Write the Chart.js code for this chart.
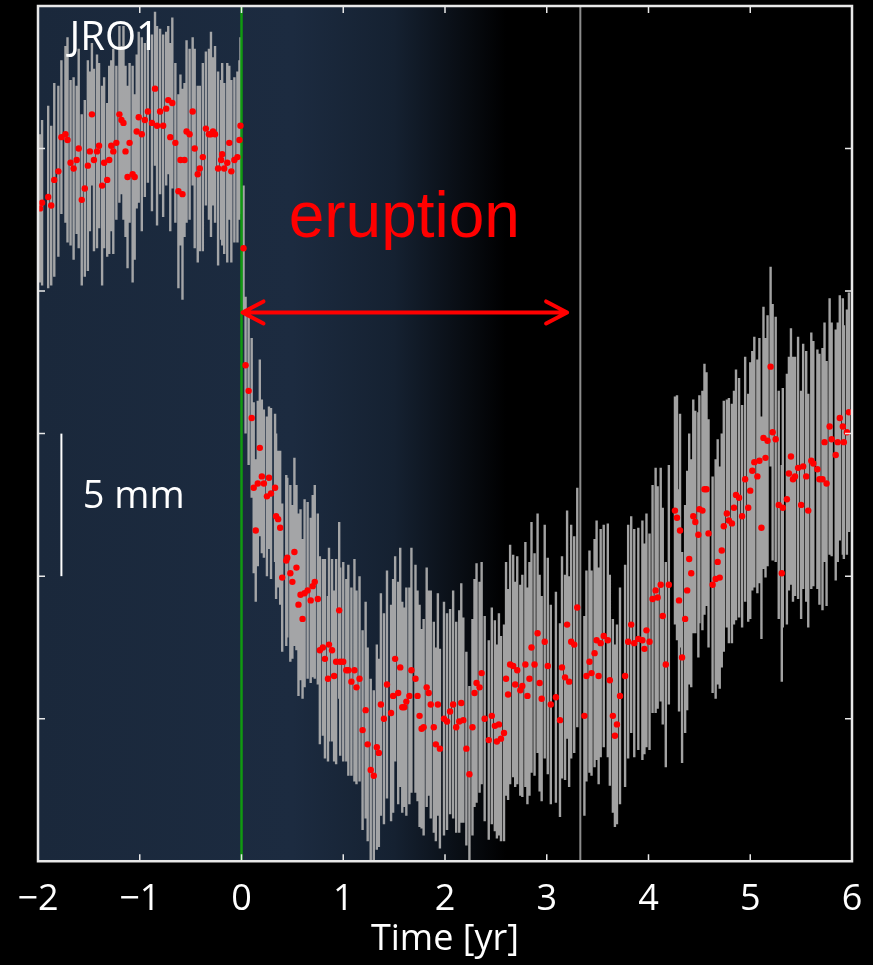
<!DOCTYPE html>
<html>
<head>
<meta charset="utf-8">
<script src="https://cdn.jsdelivr.net/npm/chart.js@4.4.0/dist/chart.umd.min.js"></script>
<style>
  html, body { margin: 0; padding: 0; background: #000; }
  #wrap { width: 873px; height: 965px; }
</style>
</head>
<body>
<div id="wrap"><canvas id="jroChart" width="873" height="965"></canvas></div>
<script>
// JRO1 station displacement around the eruption

// time of each sample, years relative to eruption onset
const timeYr = [
  // before eruption
  -1.98,-1.96,-1.90,-1.87,-1.84,-1.80,-1.77,-1.73,-1.71,-1.68,
  -1.65,-1.62,-1.60,-1.57,-1.54,-1.51,-1.49,-1.47,-1.45,-1.42,
  -1.40,-1.37,-1.35,-1.32,-1.30,-1.28,-1.26,-1.23,-1.20,-1.18,
  -1.16,-1.14,-1.12,-1.10,-1.07,-1.05,-1.03,-1.01,-0.98,-0.95,
  -0.92,-0.88,-0.85,-0.83,-0.80,-0.77,-0.74,-0.72,-0.70,-0.68,
  -0.65,-0.62,-0.60,-0.58,-0.56,-0.54,-0.51,-0.48,-0.46,-0.43,
  -0.41,-0.38,-0.35,-0.32,-0.30,-0.28,-0.26,-0.23,-0.20,-0.19,
  -0.17,-0.14,-0.12,-0.10,-0.07,-0.04,-0.02,-0.01,
  // after eruption
  0.02,0.04,0.07,0.10,0.12,0.14,0.16,0.18,0.20,0.22,
  0.25,0.27,0.29,0.33,0.34,0.36,0.38,0.40,0.44,0.45,
  0.48,0.50,0.52,0.54,0.56,0.58,0.60,0.62,0.65,0.68,
  0.70,0.72,0.75,0.77,0.80,0.82,0.85,0.86,0.89,0.91,
  0.93,0.96,0.97,1.00,1.03,1.05,1.08,1.11,1.13,1.16,
  1.19,1.22,1.24,1.27,1.30,1.33,1.35,1.37,1.40,1.43,
  1.47,1.49,1.51,1.54,1.56,1.58,1.60,1.62,1.65,1.67,
  1.71,1.73,1.75,1.77,1.79,1.82,1.84,1.86,1.89,1.91,
  1.93,1.95,1.99,2.02,2.05,2.08,2.11,2.14,2.16,2.18,
  2.21,2.24,2.27,2.29,2.31,2.34,2.36,2.39,2.43,2.46,
  2.49,2.51,2.53,2.55,2.58,2.60,2.62,2.64,2.67,2.69,
  2.71,2.74,2.76,2.79,2.81,2.83,2.85,2.88,2.91,2.93,
  2.95,2.98,3.01,3.04,3.09,3.13,3.15,3.18,3.20,3.22,
  3.24,3.27,3.30,3.37,3.39,3.42,3.44,3.47,3.49,3.51,
  3.53,3.56,3.60,3.62,3.65,3.67,3.69,3.72,3.77,3.80,
  3.83,3.86,3.90,3.94,3.96,3.98,4.01,4.04,4.07,4.09,
  4.12,4.14,4.17,4.20,4.26,4.28,4.30,4.31,4.33,4.36,
  4.38,4.40,4.42,4.44,4.46,4.49,4.50,4.53,4.55,4.57,
  4.59,4.63,4.66,4.68,4.70,4.72,4.74,4.77,4.79,4.82,
  4.84,4.86,4.89,4.92,4.95,4.98,5.00,5.02,5.04,5.07,
  5.09,5.11,5.13,5.15,5.17,5.20,5.22,5.25,5.28,5.31,
  5.32,5.36,5.38,5.40,5.42,5.44,5.47,5.50,5.52,5.55,
  5.57,5.60,5.62,5.66,5.68,5.71,5.73,5.75,5.78,5.80,
  5.84,5.86,5.88,5.91,5.92,5.95,5.97
];

// displacement, mm
const dispMm = [
  7.9,8.1,8.3,8.0,8.9,9.2,10.4,10.5,10.3,9.5,
  9.3,9.6,10.0,8.2,8.6,9.4,9.9,11.2,9.6,9.9,
  10.1,8.7,9.5,8.9,9.6,10.1,9.9,10.2,11.2,11.0,
  10.9,9.9,9.0,10.2,9.1,9.0,10.6,11.1,10.5,11.0,
  11.3,10.9,12.1,10.8,11.3,10.8,11.4,11.7,10.4,11.6,
  10.2,8.5,9.6,8.4,9.6,10.6,10.5,11.3,10.0,9.1,
  9.3,9.7,10.7,10.5,10.5,10.6,10.5,9.3,9.6,9.8,
  9.3,9.5,10.2,9.2,9.6,9.7,10.3,10.8,
  6.5,2.4,1.5,0.55,-1.9,-3.4,-1.75,-0.5,-1.5,-1.75,
  -2.2,-1.55,-2.1,-1.9,-2.9,-3.0,-3.3,-5.05,-4.45,-4.35,
  -4.9,-5.2,-4.15,-4.7,-6.0,-5.65,-6.5,-5.6,-5.5,-5.85,
  -5.35,-5.2,-5.8,-7.6,-7.5,-7.9,-8.6,-7.4,-7.6,-8.5,
  -8.0,-6.2,-8.0,-8.0,-8.3,-8.3,-8.7,-8.3,-8.9,-8.6,
  -10.4,-9.7,-10.9,-11.8,-12.0,-11.0,-11.2,-9.5,-10.0,-8.8,
  -9.8,-9.2,-7.9,-9.1,-8.2,-9.6,-9.6,-9.4,-9.2,-8.3,
  -8.6,-9.2,-9.9,-10.35,-10.3,-8.9,-9.1,-9.5,-10.3,-10.9,
  -9.5,-11.05,-10.0,-10.1,-9.75,-9.5,-10.3,-10.1,-9.45,-10.05,
  -11.05,-11.95,-10.3,-9.1,-8.75,-8.9,-8.4,-10.0,-10.75,-9.9,
  -10.25,-10.8,-10.2,-10.7,-10.5,-8.6,-9.15,-8.1,-8.15,-8.8,
  -8.3,-9.0,-8.85,-8.1,-9.2,-8.6,-7.5,-8.1,-7.0,-8.75,
  -9.3,-7.3,-8.15,-9.5,-9.25,-10.05,-8.2,-8.55,-6.7,-8.7,
  -7.3,-7.4,-6.1,-9.9,-8.5,-8.0,-8.4,-7.7,-7.25,-8.5,
  -7.35,-7.1,-7.25,-8.65,-9.9,-10.6,-10.2,-9.2,-8.5,-7.3,
  -6.7,-7.35,-7.2,-7.25,-7.55,-6.9,-7.3,-5.8,-5.5,-5.75,
  -5.3,-6.4,-8.1,-5.3,-2.7,-2.95,-5.85,-3.4,-7.85,-6.5,
  -5.5,-4.4,-4.9,-2.9,-3.1,-3.55,-2.65,-2.7,-1.95,-1.95,
  -3.5,-5.3,-5.1,-4.5,-5.05,-4.1,-3.25,-2.8,-3.05,-3.15,
  -2.6,-2.15,-2.25,-2.9,-1.6,-2.6,-2.0,-1.3,-1.0,-1.5,
  -0.95,-3.3,-0.15,-0.85,-0.25,2.35,0.05,-0.2,-2.5,-4.9,
  -2.6,-2.3,-1.4,-0.8,-1.6,-1.5,-1.2,-2.5,-1.15,-1.5,
  -2.7,-0.95,-1.05,-1.25,-1.6,-1.6,-0.3,-1.75,0.25,-0.2,
  -0.75,-0.3,0.55,0.25,-0.3,0.05,0.75
];

// half length of each error bar, mm
const errMm = [
  2.6,2.9,3.2,2.8,3.4,3.0,2.7,3.1,3.6,2.9,
  3.2,2.6,3.5,3.0,3.1,3.7,2.8,2.5,3.2,3.4,
  2.9,3.5,3.0,2.7,3.3,3.0,3.6,2.7,3.1,2.6,
  3.4,3.0,3.2,2.8,3.8,2.9,2.7,3.0,3.4,2.7,
  2.5,3.1,2.7,3.5,2.9,3.2,2.7,2.6,3.3,3.0,
  2.8,3.4,3.0,3.7,2.7,3.2,3.0,2.6,3.5,3.1,
  2.9,3.3,2.7,3.0,3.6,2.6,3.1,3.4,2.8,3.2,
  3.0,3.5,2.7,3.2,2.9,3.0,2.8,3.1,
  2.2,2.4,2.6,2.8,3.0,2.5,2.9,3.1,2.7,2.6,
  2.8,2.5,3.0,2.6,2.9,2.4,2.7,2.6,3.0,2.8,
  3.1,2.7,3.3,2.9,3.2,3.0,2.8,3.3,3.1,2.9,
  3.2,3.4,3.0,3.3,3.1,3.5,2.9,3.4,3.2,3.0,
  3.6,3.1,3.3,3.5,3.2,3.7,3.3,3.9,3.4,3.6,
  3.5,3.8,3.4,3.2,3.0,3.6,3.3,3.9,3.7,4.0,
  3.8,4.1,3.6,3.9,4.2,3.7,3.5,4.0,3.8,4.3,
  4.0,3.7,3.9,3.5,3.8,4.2,3.6,4.0,3.7,3.4,
  3.9,3.5,4.1,3.8,3.6,4.0,3.7,3.9,4.2,3.6,
  3.4,3.1,3.8,4.0,4.2,3.7,3.9,3.6,3.5,3.8,
  3.7,3.4,3.9,3.6,3.8,4.1,3.7,4.2,3.9,3.6,
  4.0,3.7,3.9,4.3,3.8,4.1,4.4,3.9,4.2,3.8,
  3.6,4.1,3.8,3.5,3.7,3.4,3.9,3.6,4.0,3.7,
  4.1,3.8,4.2,3.5,3.7,3.9,3.6,4.0,4.2,3.8,
  4.0,3.9,4.1,3.7,3.4,3.2,3.5,3.8,3.9,4.1,
  3.8,4.0,3.9,4.2,3.7,4.1,3.8,4.0,4.3,3.9,
  4.1,3.8,3.6,4.2,4.0,4.3,3.9,4.1,3.7,4.0,
  4.2,4.4,4.0,4.1,3.9,4.3,4.0,4.2,4.4,4.1,
  4.0,3.8,4.2,4.3,3.9,4.1,4.4,4.0,4.3,4.2,
  4.1,4.4,4.2,3.9,4.3,4.0,4.5,4.2,4.4,4.1,
  4.3,3.9,4.6,4.2,4.4,3.5,4.5,4.3,4.0,3.8,
  4.2,4.4,4.1,4.5,4.3,4.2,4.6,4.0,4.3,4.4,
  4.1,4.5,4.3,4.2,4.4,4.6,4.2,4.3,4.5,4.1,
  4.4,4.2,4.3,4.5,4.1,4.3,4.2
];

const xTicks = [-2, -1, 0, 1, 2, 3, 4, 5, 6];
const yTicks = [-10, -5, 0, 5, 10];
const eruptionStart = 0;
const eruptionEnd = 3.33;
const arrowEnd = 3.2;
const arrowLevel = 4.25;
const scaleBarMm = 5;

// Colors
const COLORS = {
  bar: 'rgba(176, 176, 176, 0.92)',
  dot: '#ff0000',
  green: '#119a11',
  endLine: '#8c8c8c',
  frame: '#e8e8e8',
  text: '#ffffff',
};

// build error bar segments: bottom, top, gap
const barPoints = [];
timeYr.forEach((t, i) => {
  barPoints.push({ x: t, y: dispMm[i] - errMm[i] });
  barPoints.push({ x: t, y: dispMm[i] + errMm[i] });
  barPoints.push({ x: t, y: null });
});
const dotPoints = timeYr.map((t, i) => ({ x: t, y: dispMm[i] }));

// background: black canvas, navy plot fading to black
const backgroundPlugin = {
  id: 'background',
  beforeDraw(chart) {
    const { ctx, chartArea: a, scales: { x } } = chart;
    ctx.save();
    ctx.fillStyle = '#000';
    ctx.fillRect(0, 0, chart.width, chart.height);
    const grad = ctx.createLinearGradient(a.left, 0, a.right, 0);
    const stop = (t) => (x.getPixelForValue(t) - a.left) / (a.right - a.left);
    grad.addColorStop(0, 'rgb(26, 40, 59)');
    grad.addColorStop(stop(0.5), 'rgb(28, 43, 64)');
    grad.addColorStop(stop(1.5), 'rgb(21, 33, 49)');
    grad.addColorStop(stop(2.2), 'rgb(8, 12, 18)');
    grad.addColorStop(stop(2.6), 'rgb(0, 0, 0)');
    grad.addColorStop(1, 'rgb(0, 0, 0)');
    ctx.fillStyle = grad;
    ctx.fillRect(a.left, a.top, a.right - a.left, a.bottom - a.top);
    ctx.restore();
  },
};

// labels, arrow and scale bar
const annotatePlugin = {
  id: 'annotate',
  afterDatasetsDraw(chart) {
    const { ctx, scales: { x, y } } = chart;
    ctx.save();

    // eruption arrow
    const x0 = x.getPixelForValue(eruptionStart) + 1;
    const x1 = x.getPixelForValue(arrowEnd);
    const ya = y.getPixelForValue(arrowLevel);
    ctx.strokeStyle = COLORS.dot;
    ctx.lineWidth = 4;
    ctx.lineCap = 'round';
    ctx.lineJoin = 'round';
    ctx.beginPath();
    ctx.moveTo(x0, ya);
    ctx.lineTo(x1, ya);
    ctx.moveTo(x0 + 21, ya - 11);
    ctx.lineTo(x0, ya);
    ctx.lineTo(x0 + 21, ya + 11);
    ctx.moveTo(x1 - 21, ya - 11);
    ctx.lineTo(x1, ya);
    ctx.lineTo(x1 - 21, ya + 11);
    ctx.stroke();

    ctx.fillStyle = COLORS.dot;
    ctx.font = '64px "Liberation Sans", Arial, sans-serif';
    ctx.textAlign = 'center';
    ctx.textBaseline = 'alphabetic';
    ctx.fillText('eruption', x.getPixelForValue(1.6), y.getPixelForValue(6.9));

    // station name
    ctx.fillStyle = COLORS.text;
    ctx.font = '40px "Open Sans", sans-serif';
    ctx.textAlign = 'left';
    ctx.fillText('JRO1', x.getPixelForValue(-1.69), y.getPixelForValue(13.45));

    // 5 mm scale bar
    const xs = x.getPixelForValue(-1.77);
    ctx.strokeStyle = COLORS.text;
    ctx.lineWidth = 2;
    ctx.lineCap = 'butt';
    ctx.beginPath();
    ctx.moveTo(xs, y.getPixelForValue(0));
    ctx.lineTo(xs, y.getPixelForValue(-scaleBarMm));
    ctx.stroke();
    ctx.font = '38px "Open Sans", sans-serif';
    ctx.fillText('5 mm', x.getPixelForValue(-1.56), y.getPixelForValue(-2.6));
    ctx.restore();
  },
  afterDraw(chart) {
    const { ctx, chartArea: a, scales: { x, y } } = chart;
    ctx.save();
    ctx.strokeStyle = COLORS.frame;
    ctx.lineWidth = 1.5;
    ctx.beginPath();
    xTicks.forEach(v => {
      const px = x.getPixelForValue(v);
      ctx.moveTo(px, a.bottom);
      ctx.lineTo(px, a.bottom - 7);
      ctx.moveTo(px, a.top);
      ctx.lineTo(px, a.top + 7);
    });
    yTicks.forEach(v => {
      const py = y.getPixelForValue(v);
      ctx.moveTo(a.left, py);
      ctx.lineTo(a.left + 7, py);
      ctx.moveTo(a.right, py);
      ctx.lineTo(a.right - 7, py);
    });
    ctx.stroke();
    ctx.lineWidth = 2.5;
    ctx.strokeRect(a.left, a.top, a.right - a.left, a.bottom - a.top);
    ctx.restore();
  },
};

const ctx = document.getElementById('jroChart').getContext('2d');
new Chart(ctx, {
  type: 'scatter',
  data: {
    datasets: [
      {
        type: 'line',
        label: 'error',
        data: barPoints,
        showLine: true,
        spanGaps: false,
        borderColor: COLORS.bar,
        borderWidth: 2.4,
        pointRadius: 0,
        order: 3,
      },
      {
        type: 'line',
        label: 'onset',
        data: [{ x: eruptionStart, y: -15 }, { x: eruptionStart, y: 15 }],
        borderColor: COLORS.green,
        borderWidth: 2.5,
        pointRadius: 0,
        order: 2,
      },
      {
        type: 'line',
        label: 'end',
        data: [{ x: eruptionEnd, y: -15 }, { x: eruptionEnd, y: 15 }],
        borderColor: COLORS.endLine,
        borderWidth: 2,
        pointRadius: 0,
        order: 2,
      },
      {
        label: 'JRO1',
        data: dotPoints,
        pointRadius: 3.2,
        pointBackgroundColor: COLORS.dot,
        pointBorderWidth: 0,
        order: 1,
      },
    ],
  },
  options: {
    responsive: false,
    animation: false,
    events: [],
    layout: { padding: { left: 38, right: 21, top: 6, bottom: 0 } },
    plugins: {
      legend: { display: false },
      tooltip: { enabled: false },
    },
    scales: {
      x: {
        type: 'linear',
        min: -2,
        max: 6,
        grid: { display: false, drawTicks: false },
        border: { display: false },
        afterBuildTicks: (scale) => { scale.ticks = xTicks.map(v => ({ value: v })); },
        ticks: {
          color: COLORS.text,
          padding: 10,
          font: { family: '"Open Sans", sans-serif', size: 36, lineHeight: 1.6 },
          callback: (v) => (v < 0 ? '\u2212' + Math.abs(v) : String(v)),
        },
        title: {
          display: true,
          text: 'Time [yr]',
          color: COLORS.text,
          padding: { top: 0, bottom: 24 },
          font: { family: '"Open Sans", sans-serif', size: 36, lineHeight: 0.06 },
        },
      },
      y: {
        display: false,
        min: -15,
        max: 15,
      },
    },
  },
  plugins: [backgroundPlugin, annotatePlugin],
});
</script>
</body>
</html>
